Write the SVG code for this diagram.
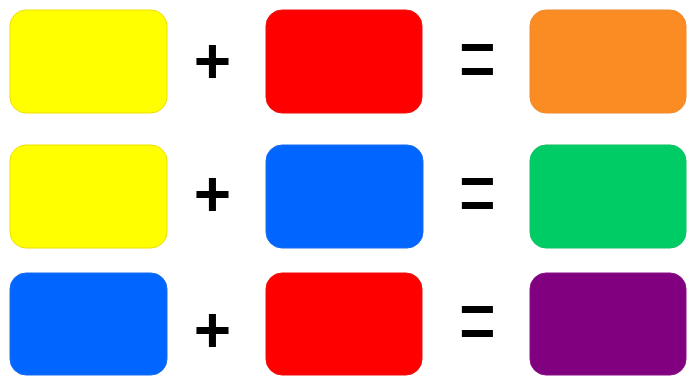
<svg xmlns="http://www.w3.org/2000/svg" width="687" height="378" viewBox="0 0 687 378">
  <style>
    .box { stroke-width: 1; }
    .op { font-family: "Liberation Sans", Arial, sans-serif; font-weight: bold; font-size: 64px; fill: #000; text-anchor: middle; }
    .eq { font-family: "Liberation Sans", Arial, sans-serif; font-weight: normal; font-size: 64px; fill: #000; text-anchor: middle; }
    .yellow { fill: #FFFF00; stroke: #EDE000; }
    .red { fill: #FF0000; stroke: #EE1010; }
    .blue { fill: #0066FF; stroke: #1A6FF0; }
    .orange { fill: #FB8C23; stroke: #EE8A30; }
    .green { fill: #00CC66; stroke: #10C060; }
    .purple { fill: #800080; stroke: #8A1088; }
  </style>
  <rect width="687" height="378" fill="#FFFFFF"/>
  <g id="row1">
    <g id="yellow1"><rect class="box yellow" x="10" y="10" width="157" height="103" rx="16"/></g>
    <g id="plus1"><text class="op" x="212.5" y="83">+</text></g>
    <g id="red1"><rect class="box red" x="266" y="10" width="156" height="103" rx="16"/></g>
    <g id="equals1"><text class="eq" transform="translate(477.5,91) scale(1,1.5)">=</text></g>
    <g id="orange"><rect class="box orange" x="530" y="10" width="156" height="103" rx="16"/></g>
  </g>
  <g id="row2">
    <g id="yellow2"><rect class="box yellow" x="10" y="145" width="157" height="103" rx="16"/></g>
    <g id="plus2"><text class="op" x="212.5" y="216">+</text></g>
    <g id="blue2"><rect class="box blue" x="266" y="145" width="157" height="103" rx="16"/></g>
    <g id="equals2"><text class="eq" transform="translate(477.5,224.5) scale(1,1.5)">=</text></g>
    <g id="green"><rect class="box green" x="530" y="145" width="156" height="103" rx="16"/></g>
  </g>
  <g id="row3">
    <g id="blue3"><rect class="box blue" x="10" y="273" width="157" height="102" rx="16"/></g>
    <g id="plus3"><text class="op" x="212.5" y="352">+</text></g>
    <g id="red3"><rect class="box red" x="266" y="273" width="156" height="102" rx="16"/></g>
    <g id="equals3"><text class="eq" transform="translate(477.5,353) scale(1,1.5)">=</text></g>
    <g id="purple"><rect class="box purple" x="530" y="273" width="156" height="102" rx="16"/></g>
  </g>
  <g id="connectors"></g>
</svg>
